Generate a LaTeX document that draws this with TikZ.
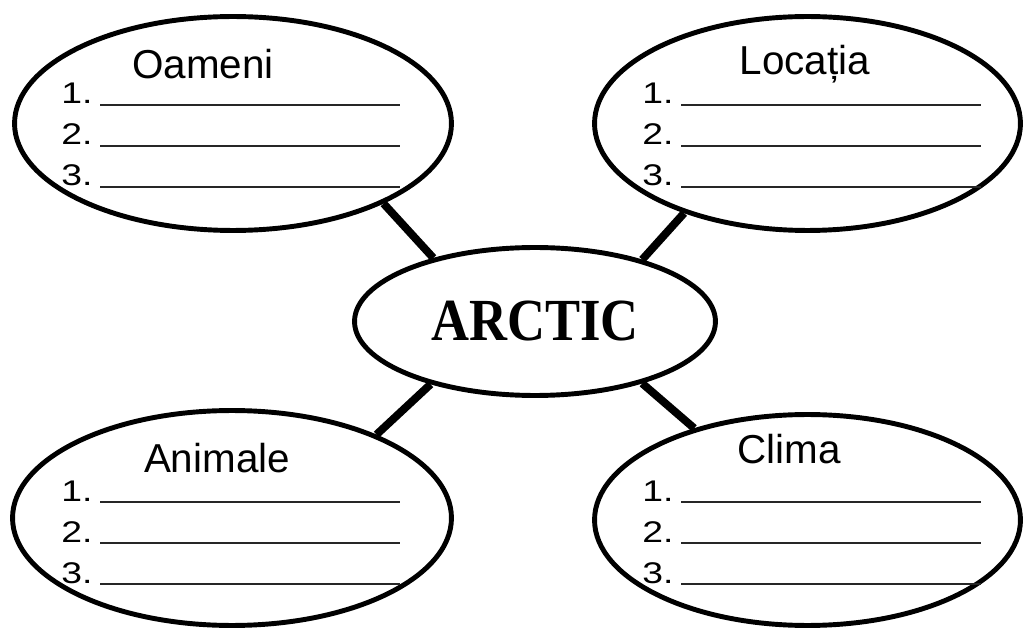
\documentclass[tikz,border=0pt]{standalone}
\usepackage{fontspec}
\setmainfont{Liberation Sans}
\newfontfamily\arcticfont{Liberation Serif}
\usetikzlibrary{shapes.geometric}

\begin{document}
\begin{tikzpicture}[x=0.02cm,y=-0.02cm,
  bubble/.style={draw, ellipse, line width=2.8pt, fill=white, inner sep=0pt},
  spoke/.style={line width=4.5pt},
  heading/.style={font=\fontsize{23}{27}\selectfont, anchor=base, inner sep=0pt},
  numtext/.style={font=\fontsize{17}{20}\selectfont, anchor=base west, inner sep=0pt},
  answerline/.style={line width=1.1pt, black!85}]

\useasboundingbox (0,0) rectangle (1025,628);

%% bubbles
\node[bubble, minimum width=8.74cm, minimum height=4.28cm] (oameni) at (233,123.5) {};
\node[bubble, minimum width=8.52cm, minimum height=4.28cm] (locatia) at (807.5,123.5) {};
\node[bubble, minimum width=8.78cm, minimum height=4.30cm] (animale) at (232,518) {};
\node[bubble, minimum width=8.52cm, minimum height=4.22cm] (clima) at (807.5,520) {};
\node[bubble, minimum width=7.22cm, minimum height=2.96cm,
      font=\arcticfont\bfseries\fontsize{34}{40}\selectfont] (arctic) at (535,321.5)
      {\scalebox{0.88}[1]{ARCTIC}};

%% spokes
\draw[spoke] (oameni.-28) -- (arctic.148);
\draw[spoke] (locatia.-144) -- (arctic.30);
\draw[spoke] (animale.30) -- (arctic.211);
\draw[spoke] (clima.141) -- (arctic.-30);

%% headings
\node[heading] (toameni) at (203,79) {Oameni};
\node[heading] (tlocatia) at (805,75) {Locația};
\node[heading] (tanimale) at (217,472) {Animale};
\node[heading] (tclima) at (789,463) {Clima};

%% numbered lines
\foreach \grp/\nx/\by in {oameni/61/104, locatia/642/104, animale/61/501, clima/642/501} {
  \foreach \i in {1,2,3} {
    \pgfmathsetmacro{\y}{\by+41*(\i-1)}
    \node[numtext] (\grp-\i) at (\nx,\y) {\scalebox{1.25}[1]{\i.}};
    \draw[answerline] (\nx+39,\y+1) -- ++(300,0);
  }
}

\end{tikzpicture}
\end{document}
